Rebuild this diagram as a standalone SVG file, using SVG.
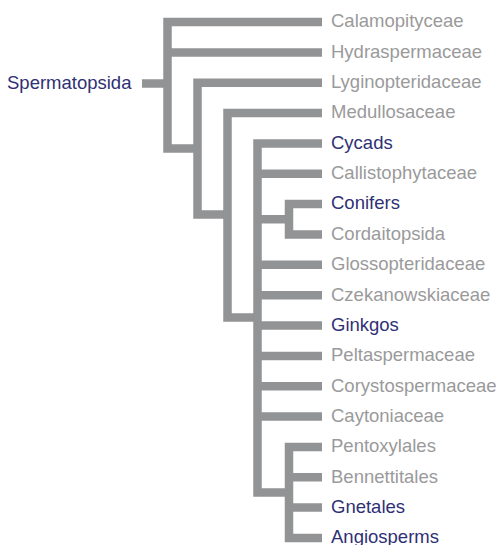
<svg xmlns="http://www.w3.org/2000/svg" width="499" height="545" viewBox="0 0 499 545">
<style>
.e{fill:none;stroke:#929395;stroke-width:8.5;stroke-linejoin:miter;stroke-linecap:butt}
text{font-family:"Liberation Sans",Arial,Helvetica,sans-serif;font-size:18.5px}
.g{fill:#9a9a9b}
.b{fill:#303074}
</style>
<rect width="499" height="545" fill="#ffffff"/>
<g id="connectors">
<path class="e" d="M142 83.5H167.5"/>
<path class="e" d="M322 22H167.5V148.5H197.5"/>
<path class="e" d="M167.5 52.4H322"/>
<path class="e" d="M322 82.7H197.5V214.5H227.5"/>
<path class="e" d="M322 113H227.5V317.5H257.5"/>
<path class="e" d="M322 143.4H257.5V492.5H289"/>
<path class="e" d="M257.5 173.75H322"/>
<path class="e" d="M257.5 219.25H289"/>
<path class="e" d="M322 204H289V234.5H322"/>
<path class="e" d="M257.5 264.8H322"/>
<path class="e" d="M257.5 295.2H322"/>
<path class="e" d="M257.5 325.5H322"/>
<path class="e" d="M257.5 355.9H322"/>
<path class="e" d="M257.5 386.2H322"/>
<path class="e" d="M257.5 416.6H322"/>
<path class="e" d="M322 447H289V538H322"/>
<path class="e" d="M289 477.3H322"/>
<path class="e" d="M289 507.6H322"/>
</g>
<g id="spermatopsida"><text class="b" x="7" y="88.8">Spermatopsida</text></g>
<g id="calamopityceae"><text class="g" x="331" y="27.3">Calamopityceae</text></g>
<g id="hydraspermaceae"><text class="g" x="331" y="57.7">Hydraspermaceae</text></g>
<g id="lyginopteridaceae"><text class="g" x="331" y="88">Lyginopteridaceae</text></g>
<g id="medullosaceae"><text class="g" x="331" y="118.3">Medullosaceae</text></g>
<g id="cycads"><text class="b" x="331" y="148.7">Cycads</text></g>
<g id="callistophytaceae"><text class="g" x="331" y="179">Callistophytaceae</text></g>
<g id="conifers"><text class="b" x="331" y="209.3">Conifers</text></g>
<g id="cordaitopsida"><text class="g" x="331" y="239.8">Cordaitopsida</text></g>
<g id="glossopteridaceae"><text class="g" x="331" y="270.1">Glossopteridaceae</text></g>
<g id="czekanowskiaceae"><text class="g" x="331" y="300.5">Czekanowskiaceae</text></g>
<g id="ginkgos"><text class="b" x="331" y="330.8">Ginkgos</text></g>
<g id="peltaspermaceae"><text class="g" x="331" y="361.2">Peltaspermaceae</text></g>
<g id="corystospermaceae"><text class="g" x="331" y="391.5">Corystospermaceae</text></g>
<g id="caytoniaceae"><text class="g" x="331" y="421.9">Caytoniaceae</text></g>
<g id="pentoxylales"><text class="g" x="331" y="452.3">Pentoxylales</text></g>
<g id="bennettitales"><text class="g" x="331" y="482.6">Bennettitales</text></g>
<g id="gnetales"><text class="b" x="331" y="512.9">Gnetales</text></g>
<g id="angiosperms"><text class="b" x="331" y="543.3">Angiosperms</text></g>
</svg>
